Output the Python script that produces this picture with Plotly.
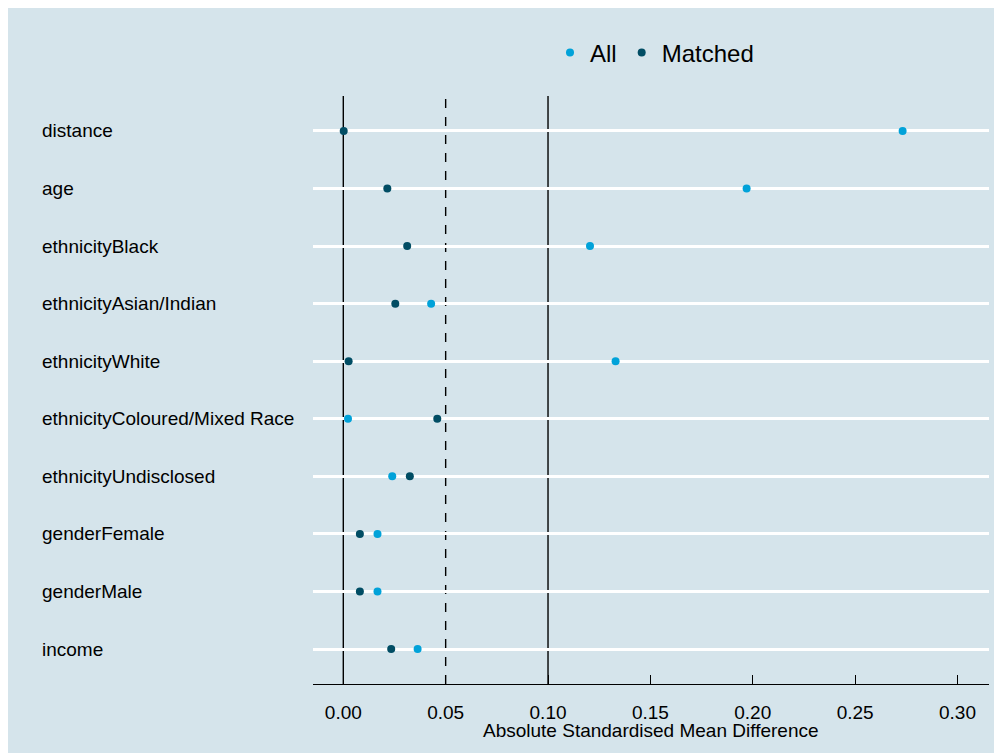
import plotly.graph_objects as go

# Covariate balance: absolute standardised mean differences before/after matching
covariates = [
    "distance", "age", "ethnicityBlack", "ethnicityAsian/Indian", "ethnicityWhite",
    "ethnicityColoured/Mixed Race", "ethnicityUndisclosed", "genderFemale",
    "genderMale", "income",
]
smd_all = [0.2732, 0.1970, 0.1205, 0.0429, 0.1330, 0.0023, 0.0239, 0.0167, 0.0167, 0.0363]
smd_matched = [0.0002, 0.0215, 0.0312, 0.0254, 0.0026, 0.0459, 0.0325, 0.0081, 0.0081, 0.0234]
x_ticks = [0.00, 0.05, 0.10, 0.15, 0.20, 0.25, 0.30]
x_tick_labels = ["0.00", "0.05", "0.10", "0.15", "0.20", "0.25", "0.30"]
threshold_lines = [0.0, 0.05, 0.10]
threshold_dash = ["solid", "dash", "solid"]

BG = "#d5e4eb"
FONT = "Liberation Sans, Arial, sans-serif"

W, H = 994, 753
L, R, T, B = 313, 5, 96, 69
pw, ph = W - L - R, H - T - B

fig = go.Figure()
fig.add_trace(go.Scatter(
    x=smd_all, y=covariates, mode="markers", name="All",
    marker=dict(color="#01a2d9", size=8, line=dict(width=0)),
))
fig.add_trace(go.Scatter(
    x=smd_matched, y=covariates, mode="markers", name="Matched",
    marker=dict(color="#014d64", size=8, line=dict(width=0)),
))

shapes = [
    # panel background, inset from the page edge
    dict(type="rect", xref="paper", yref="paper",
         x0=(8 - L) / pw, x1=(W + 2 - L) / pw,
         y0=-(H + 2 - T - ph) / ph, y1=1 + (T - 8) / ph,
         fillcolor=BG, line=dict(width=0), layer="below"),
]
for xv, dash in zip(threshold_lines, threshold_dash):
    shapes.append(dict(type="line", xref="x", yref="paper", x0=xv, x1=xv, y0=0, y1=1,
                       line=dict(color="black", width=1.4, dash=dash), layer="between"))

annotations = []
for c in covariates:
    annotations.append(dict(text=c, xref="paper", yref="y", x=(40 - L) / pw, y=c,
                            xanchor="left", yanchor="middle", showarrow=False,
                            font=dict(family=FONT, size=19, color="black")))
annotations.append(dict(text="Absolute Standardised Mean Difference", xref="paper", yref="paper",
                        x=0.5, y=-(730 - (T + ph)) / ph, xanchor="center", yanchor="middle",
                        showarrow=False, font=dict(family=FONT, size=19, color="black")))

fig.update_layout(
    width=W, height=H,
    margin=dict(l=L, r=R, t=T, b=B),
    paper_bgcolor="white",
    plot_bgcolor=BG,
    font=dict(family=FONT, size=19, color="black"),
    shapes=shapes,
    annotations=annotations,
    showlegend=True,
    legend=dict(orientation="h", xref="container", yref="container",
                x=550 / W, y=1 - 53 / H, xanchor="left", yanchor="middle",
                bgcolor="rgba(0,0,0,0)", font=dict(family=FONT, size=24, color="black")),
    xaxis=dict(
        range=[-0.0148, 0.3154], tickvals=x_ticks, ticktext=x_tick_labels,
        showgrid=False, zeroline=False, showline=True, linecolor="black", linewidth=1.4,
        ticks="inside", ticklen=9, tickcolor="black", tickwidth=1.2,
        ticklabelstandoff=11, tickfont=dict(family=FONT, size=19, color="black"),
    ),
    yaxis=dict(
        categoryorder="array", categoryarray=covariates,
        range=[len(covariates) - 1 + 0.608, -0.608],
        showgrid=True, gridcolor="white", gridwidth=2.6,
        zeroline=False, showline=False, showticklabels=False, ticks="",
    ),
)

fig.write_html("out.html")
